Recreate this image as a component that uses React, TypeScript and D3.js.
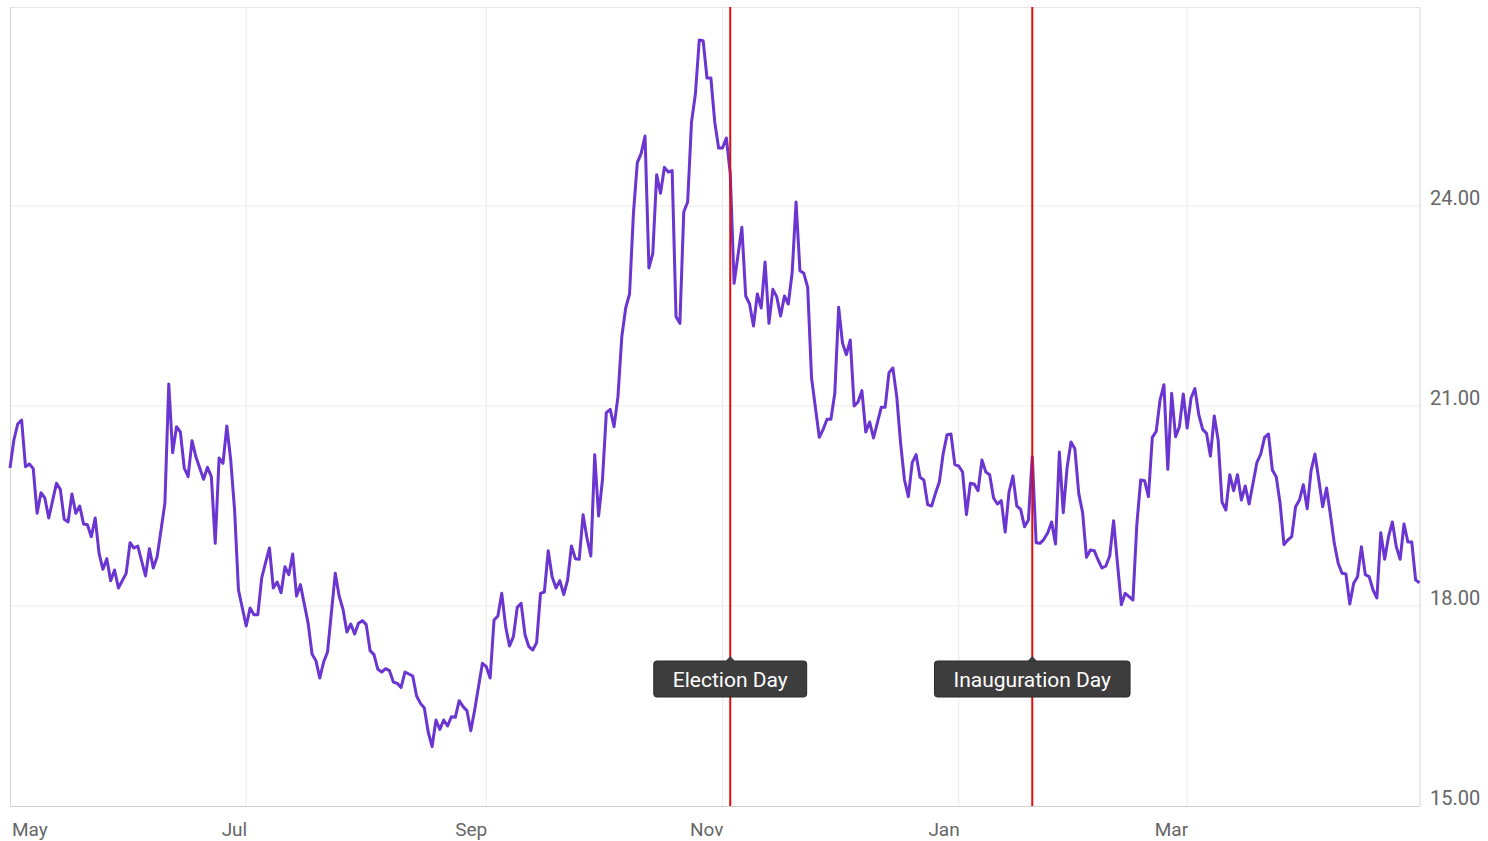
import React, { useEffect, useRef } from "react";
import * as d3 from "d3";

// ---- Data ----
const startDate = "2024-05-01";
const endDate = "2025-04-30";

// one reading per calendar day from startDate (null = not read)
const dailyValues: (number | null)[] = [
  20.07, 20.49, 20.73, 20.79, 20.09, 20.13, 20.06, 19.39, 19.7, 19.62,
  19.32, null, 19.84, 19.75, 19.3, 19.26, 19.68, 19.39, 19.5, 19.23,
  19.22, 19.04, 19.32, 18.79, 18.55, 18.71, 18.38, 18.54, 18.27, null,
  18.49, 18.95, 18.87, 18.9, null, 18.45, 18.86, 18.57, 18.74, null,
  19.54, 21.33, 20.3, 20.69, 20.61, 20.07, 19.94, 20.48, 20.24, null,
  19.9, 20.08, 19.94, 18.94, 20.22, 20.14, 20.7, 20.19, 19.44, 18.24,
  17.97, 17.7, 17.97, 17.87, 17.87, 18.42, 18.65, 18.87, 18.27, 18.36,
  18.2, 18.59, 18.47, 18.78, 18.15, 18.32, null, 17.74, 17.28, 17.18,
  16.92, 17.16, 17.31, null, 18.49, 18.15, 17.95, 17.61, 17.73, 17.58,
  17.74, 17.78, 17.72, 17.33, 17.27, 17.05, 17.01, 17.06, 17.03, 16.86,
  16.84, 16.78, 17.01, 16.98, 16.95, 16.65, 16.54, 16.47, 16.11, 15.89,
  16.29, 16.15, 16.29, 16.2, 16.34, 16.33, 16.58, 16.49, 16.43, 16.13,
  16.44, null, 17.14, 17.09, 16.92, 17.79, 17.85, 18.19, 17.69, 17.4,
  17.54, 17.98, 18.04, 17.57, 17.39, 17.34, 17.45, 18.19, 18.21, 18.83,
  18.44, 18.27, 18.38, 18.17, 18.39, 18.9, 18.71, 18.7, 19.37, 19.02,
  18.75, 20.27, 19.35, 19.89, 20.9, 20.95, 20.69, 21.14, 22.04, 22.47,
  22.68, 23.89, 24.65, 24.79, 25.05, 23.07, 23.29, 24.47, 24.19, 24.58,
  24.51, 24.53, 22.34, 22.24, 23.91, 24.06, 25.26, 25.68, 26.49, 26.48,
  25.92, 25.92, 25.26, 24.87, 24.87, 25.02, 24.49, 22.84, null, 23.68,
  22.65, 22.53, 22.2, 22.68, 22.47, 23.16, 22.24, 22.75, 22.64, 22.35,
  22.65, 22.53, 23.01, 24.06, 23.03, 22.99, 22.78, 21.42, null, 20.53,
  20.65, 20.8, 20.8, 21.19, 22.48, 21.94, 21.77, 21.99, 21.0, 21.06,
  21.23, 20.61, 20.76, 20.52, null, 20.98, 20.98, 21.5, 21.57, 21.14,
  20.44, 19.89, 19.64, 20.15, 20.27, 19.93, 19.89, 19.52, 19.5, 19.69,
  19.86, 20.29, 20.57, 20.58, 20.12, 20.1, 20.01, 19.37, 19.84, 19.83,
  19.73, 20.19, 20.01, 19.97, 19.62, 19.53, 19.58, 19.11, 19.71, 19.95,
  19.5, 19.45, 19.19, 19.29, 20.24, 18.95, 18.94, 19.0, 19.1, 19.26,
  18.93, 20.31, 19.4, 20.08, 20.46, 20.36, 19.69, 19.4, 18.73, 18.84,
  18.83, 18.69, 18.57, 18.6, 18.75, 19.28, 18.64, 18.02, 18.19, 18.14,
  18.09, 19.22, 19.89, 19.88, 19.64, 20.53, 20.62, 21.09, 21.32, 20.05,
  21.19, 20.54, 20.69, 21.18, 20.67, 21.12, 21.26, 20.87, 20.65, 20.59,
  20.25, 20.85, 20.49, 19.56, 19.44, 19.97, 19.73, 19.97, 19.59, 19.8,
  19.53, null, 20.15, 20.28, 20.53, 20.58, 20.04, 19.94, 19.54, 18.92,
  18.99, 19.04, 19.49, 19.59, 19.82, 19.46, 20.03, 20.28, 19.89, 19.49,
  19.77, 19.37, 18.94, 18.64, 18.49, 18.48, 18.03, 18.34, 18.44, 18.89,
  18.47, 18.44, 18.24, 18.12, 19.1, 18.7, 19.04, 19.26, 18.89, 18.7,
  19.23, 18.96, 18.96, 18.39, 18.35,
];

const xTickDates = ["2024-05-01", "2024-07-01", "2024-09-01", "2024-11-01", "2025-01-01", "2025-03-01"];
const xTickLabels = ["May", "Jul", "Sep", "Nov", "Jan", "Mar"];
const yTicks = [15, 18, 21, 24];
const yDomain = [15, 27];

const eventLabels = ["Election Day", "Inauguration Day"];
const eventDates = ["2024-11-03", "2025-01-20"];

// ---- Layout ----
const W = 1488;
const H = 841;
const left = 10;
const right = 1419.5;
const top = 6;
const bottom = 806;

export default function App() {
  const ref = useRef<SVGSVGElement | null>(null);

  useEffect(() => {
    const svg = d3.select(ref.current);
    svg.selectAll("*").remove();

    const parse = (s: string) => new Date(s + "T00:00:00Z");
    const start = parse(startDate);
    const x = d3.scaleUtc().domain([start, parse(endDate)]).range([left, right]);
    const y = d3.scaleLinear().domain(yDomain).range([bottom, top]);

    const data = dailyValues
      .map((v, i) => ({ date: d3.utcDay.offset(start, i), value: v }))
      .filter((d) => d.value !== null) as { date: Date; value: number }[];

    const font = "Roboto, 'Noto Sans', sans-serif";

    // gridlines
    const g = svg.append("g");
    g.selectAll("line.hg")
      .data(yTicks.filter((t) => t > yDomain[0]))
      .join("line")
      .attr("x1", left)
      .attr("x2", 1420)
      .attr("y1", (d) => y(d))
      .attr("y2", (d) => y(d))
      .attr("stroke", "#ebebeb")
      .attr("stroke-width", 1);
    g.selectAll("line.vg")
      .data(xTickDates.slice(1))
      .join("line")
      .attr("x1", (d) => x(parse(d)))
      .attr("x2", (d) => x(parse(d)))
      .attr("y1", 7)
      .attr("y2", bottom)
      .attr("stroke", "#ebebeb")
      .attr("stroke-width", 1);

    // frame
    svg.append("line").attr("x1", left).attr("x2", 1420).attr("y1", 7.5).attr("y2", 7.5).attr("stroke", "#e6e6e6");
    svg.append("line").attr("x1", left + 0.5).attr("x2", left + 0.5).attr("y1", 7).attr("y2", bottom).attr("stroke", "#d4d4d4");
    svg.append("line").attr("x1", 1420).attr("x2", 1420).attr("y1", 7).attr("y2", bottom).attr("stroke", "#d4d4d4");
    svg.append("line").attr("x1", left).attr("x2", 1420).attr("y1", bottom + 0.5).attr("y2", bottom + 0.5).attr("stroke", "#cfcfcf");

    // line
    const line = d3
      .line<{ date: Date; value: number }>()
      .x((d) => x(d.date))
      .y((d) => y(d.value));
    svg
      .append("path")
      .datum(data)
      .attr("d", line)
      .attr("fill", "none")
      .attr("stroke", "#6a35d0")
      .attr("stroke-width", 3)
      .attr("stroke-linejoin", "round");

    // event lines
    eventDates.forEach((ds) => {
      const ex = x(parse(ds));
      svg
        .append("line")
        .attr("x1", ex)
        .attr("x2", ex)
        .attr("y1", 7)
        .attr("y2", bottom)
        .attr("stroke", "#e00d0d")
        .attr("stroke-width", 2);
    });

    // event labels
    eventDates.forEach((ds, i) => {
      const ex = x(parse(ds));
      const lg = svg.append("g");
      const rect = lg.append("rect");
      const tri = lg.append("path");
      const txt = lg
        .append("text")
        .attr("x", ex)
        .attr("y", 687)
        .attr("text-anchor", "middle")
        .attr("fill", "#ffffff")
        .style("font-family", font)
        .style("font-size", "21px")
        .text(eventLabels[i]);
      const tw = (txt.node() as SVGTextElement).getComputedTextLength();
      const bw = tw + 38;
      rect
        .attr("x", ex - bw / 2)
        .attr("y", 661)
        .attr("width", bw)
        .attr("height", 36)
        .attr("rx", 3)
        .attr("fill", "#3d3d3d")
        .attr("stroke", "#2a2a2a")
        .attr("stroke-width", 1);
      tri
        .attr("d", `M${ex - 5},661.5 L${ex},656 L${ex + 5},661.5 Z`)
        .attr("fill", "#3d3d3d");
    });

    // x labels
    xTickDates.forEach((ds, i) => {
      const tx = x(parse(ds));
      const first = tx - left < 2;
      svg
        .append("text")
        .attr("x", first ? left + 2 : tx + 1)
        .attr("y", 836)
        .attr("text-anchor", first ? "start" : "end")
        .attr("fill", "#666")
        .style("font-family", font)
        .style("font-size", "19px")
        .text(xTickLabels[i]);
    });

    // y labels
    yTicks.forEach((t) => {
      svg
        .append("text")
        .attr("x", 1430)
        .attr("y", y(t) - 1)
        .attr("text-anchor", "start")
        .attr("fill", "#666")
        .style("font-family", font)
        .style("font-size", "20px")
        .text(d3.format(".2f")(t));
    });
  }, []);

  return (
    <div style={{ position: "absolute", left: 0, top: 0, width: W, height: H, background: "#fff" }}>
      <svg ref={ref} width={W} height={H} style={{ display: "block" }} />
    </div>
  );
}
